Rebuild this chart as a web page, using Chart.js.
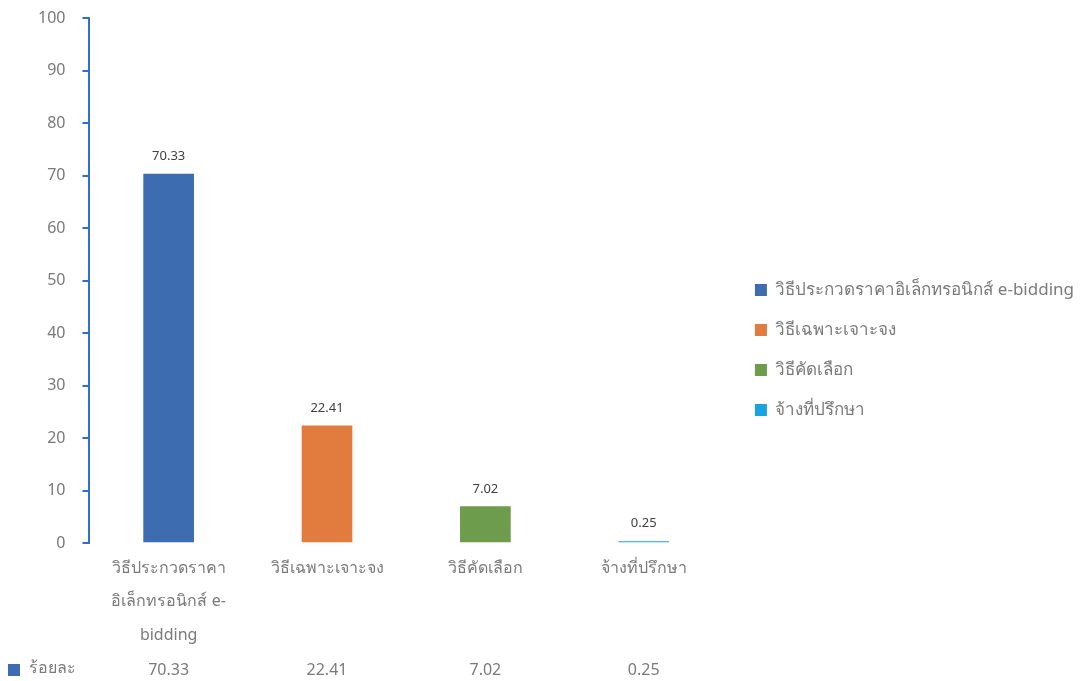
<!DOCTYPE html>
<html>
<head>
<meta charset="utf-8">
<script src="https://cdn.jsdelivr.net/npm/chart.js@4"></script>
<style>
  html, body { margin: 0; padding: 0; background: #ffffff; }
  #wrap { width: 1092px; height: 681px; }
</style>
</head>
<body>
<div id="wrap"><canvas id="chart"></canvas></div>
<script>
// categories (axis labels split in lines) and legend names
const categories = [
    ['วิธีประกวดราคา', 'อิเล็กทรอนิกส์ e-', 'bidding'],
    'วิธีเฉพาะเจาะจง',
    'วิธีคัดเลือก',
    'จ้างที่ปรึกษา',
];
const legendNames = [
    'วิธีประกวดราคาอิเล็กทรอนิกส์ e-bidding',
    'วิธีเฉพาะเจาะจง',
    'วิธีคัดเลือก',
    'จ้างที่ปรึกษา',
];
const seriesName = 'ร้อยละ';
const percentValues = [70.33, 22.41, 7.02, 0.25];
const yTicks = [0, 10, 20, 30, 40, 50, 60, 70, 80, 90, 100];

const barColors = ['#3d6cb0', '#e27c3e', '#6c9c4c', '#1aa3e3'];
const fontFamily = '"Noto Sans", "DejaVu Sans", sans-serif';
const textGray = '#7a7a7a';

// leave a small gap between plot and legend, and drop the legend a bit
const layoutTweak = {
    id: 'layoutTweak',
    afterLayout(chart) {
        const x = chart.scales.x;
        x.right -= 9;
        x.width -= 9;
        x.configure();
        chart.chartArea.right -= 9;
        chart.chartArea.width -= 9;
        chart.legend.top += 15;
        chart.legend.bottom += 15;
    },
};

// value labels above bars
const barValueLabels = {
    id: 'barValueLabels',
    afterDatasetsDraw(chart) {
        const ctx = chart.ctx;
        const meta = chart.getDatasetMeta(0);
        ctx.save();
        ctx.font = '13px ' + fontFamily;
        ctx.fillStyle = '#404040';
        ctx.textAlign = 'center';
        ctx.textBaseline = 'bottom';
        meta.data.forEach((bar, i) => {
            ctx.fillText(percentValues[i].toFixed(2), bar.x, bar.y - 11);
        });
        ctx.restore();
    },
};

// data table row under the axis labels
const dataTableRow = {
    id: 'dataTableRow',
    afterDraw(chart) {
        const ctx = chart.ctx;
        const xScale = chart.scales.x;
        const y = 670;
        ctx.save();
        ctx.fillStyle = barColors[0];
        ctx.fillRect(8, y - 6, 12, 12);
        ctx.font = '16px ' + fontFamily;
        ctx.fillStyle = textGray;
        ctx.textBaseline = 'middle';
        ctx.textAlign = 'left';
        ctx.fillText(seriesName, 29, y - 2);
        ctx.textAlign = 'center';
        percentValues.forEach((v, i) => {
            ctx.fillText(v.toFixed(2), xScale.getPixelForValue(i), y);
        });
        ctx.restore();
    },
};

const chart = new Chart(document.getElementById('chart'), {
    type: 'bar',
    data: {
        labels: categories,
        datasets: [
            {
                label: seriesName,
                data: percentValues,
                backgroundColor: barColors,
                borderWidth: 0,
                categoryPercentage: 1,
                barPercentage: 0.32,
                minBarLength: 2,
            },
        ],
    },
    options: {
        responsive: true,
        maintainAspectRatio: false,
        animation: false,
        layout: {
            padding: { top: 18, left: 21, right: 8, bottom: 29 },
        },
        scales: {
            x: {
                border: { display: false },
                grid: { display: false },
                ticks: {
                    color: textGray,
                    font: { family: fontFamily, size: 16, lineHeight: 2.1 },
                    maxRotation: 0,
                    minRotation: 0,
                    autoSkip: false,
                    padding: 0,
                },
            },
            y: {
                min: 0,
                max: 100,
                afterBuildTicks: (axis) => {
                    axis.ticks = yTicks.map((v) => ({ value: v }));
                },
                // keep the label gap from pushing the plot down
                afterFit: (axis) => {
                    axis.paddingTop = 10;
                    axis.paddingBottom = 10;
                },
                border: { display: true, color: '#2f6fcf', width: 2 },
                grid: {
                    drawOnChartArea: false,
                    drawTicks: true,
                    tickLength: 7,
                    color: '#2f6fcf',
                    lineWidth: 2,
                },
                ticks: {
                    color: textGray,
                    font: { family: fontFamily, size: 16 },
                    padding: 17,
                },
            },
        },
        plugins: {
            tooltip: { enabled: false },
            legend: {
                position: 'right',
                align: 'center',
                maxWidth: 420,
                onClick: null,
                labels: {
                    boxWidth: 12,
                    boxHeight: 12,
                    padding: 23,
                    color: textGray,
                    font: { family: fontFamily, size: 17 },
                    generateLabels: () =>
                        legendNames.map((name, i) => ({
                            text: name,
                            fillStyle: barColors[i],
                            strokeStyle: barColors[i],
                            fontColor: textGray,
                            lineWidth: 0,
                            hidden: false,
                            index: i,
                        })),
                },
            },
        },
    },
    plugins: [layoutTweak, barValueLabels, dataTableRow],
});

// re-measure once the fallback Thai font is ready
document.fonts.ready.then(() => chart.update());
</script>
</body>
</html>
